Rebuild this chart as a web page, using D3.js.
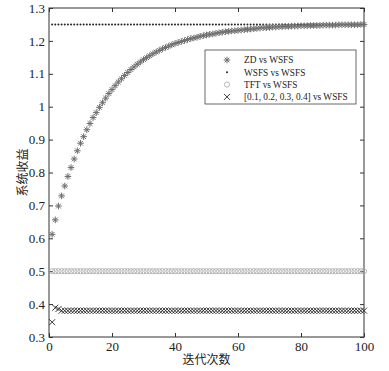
<!DOCTYPE html>
<html>
<head>
<meta charset="utf-8">
<script src="https://cdn.jsdelivr.net/npm/d3@7"></script>
<style>
  body { margin: 0; background: #fff; }
  text { font-family: "Liberation Serif", "DejaVu Serif", serif; fill: #222; }
  .cjk { font-family: "Noto Sans CJK SC", sans-serif; }
</style>
</head>
<body>
<div id="chart"></div>
<script>
// iteration index 1..100
var iterations = d3.range(1, 101);

// ZD vs WSFS
var zdValues = [
    0.612, 0.656, 0.698, 0.729, 0.759, 0.788, 0.815, 0.841, 0.866, 0.889,
    0.909, 0.930, 0.949, 0.967, 0.982, 0.998, 1.012, 1.026, 1.040, 1.052,
    1.064, 1.075, 1.085, 1.095, 1.104, 1.113, 1.121, 1.129, 1.136, 1.143,
    1.149, 1.155, 1.161, 1.166, 1.171, 1.176, 1.180, 1.184, 1.188, 1.192,
    1.195, 1.198, 1.201, 1.204, 1.207, 1.209, 1.211, 1.214, 1.216, 1.218,
    1.220, 1.221, 1.223, 1.225, 1.226, 1.228, 1.229, 1.230, 1.231, 1.232,
    1.233, 1.234, 1.235, 1.236, 1.237, 1.238, 1.239, 1.240, 1.240, 1.241,
    1.242, 1.242, 1.243, 1.243, 1.244, 1.244, 1.245, 1.245, 1.245, 1.246,
    1.246, 1.246, 1.247, 1.247, 1.247, 1.247, 1.248, 1.248, 1.248, 1.248,
    1.248, 1.249, 1.249, 1.249, 1.249, 1.249, 1.249, 1.249, 1.250, 1.250
];
// WSFS vs WSFS, TFT vs WSFS: flat
var wsfsLevel = 1.25;
var tftLevel = 0.5;
// [0.1,0.2,0.3,0.4] vs WSFS: first few differ, then flat
var fixedStart = [0.345, 0.389, 0.385];
var fixedLevel = 0.38;

var xTicks = [0, 20, 40, 60, 80, 100];
var yTicks = [0.3, 0.4, 0.5, 0.6, 0.7, 0.8, 0.9, 1, 1.1, 1.2, 1.3];

var legendLabels = ['ZD vs WSFS', 'WSFS vs WSFS', 'TFT vs WSFS', '[0.1, 0.2, 0.3, 0.4] vs WSFS'];

var margin = {top: 8, right: 25, bottom: 34, left: 49},
    width = 389 - margin.left - margin.right,
    height = 371 - margin.top - margin.bottom;

var svg = d3.select('#chart').append('svg')
    .attr('width', 389)
    .attr('height', 371);

var g = svg.append('g')
    .attr('transform', 'translate(' + margin.left + ',' + margin.top + ')');

var x = d3.scaleLinear().domain([0, 100]).range([0, width]);
var y = d3.scaleLinear().domain([0.3, 1.3]).range([height, 0]);

// series built from the arrays
var zd = iterations.map(function(n, i){ return {n: n, v: zdValues[i]}; });
var wsfs = iterations.map(function(n){ return {n: n, v: wsfsLevel}; });
var tft = iterations.map(function(n){ return {n: n, v: tftLevel}; });
var fixed = iterations.map(function(n, i){
    return {n: n, v: i < fixedStart.length ? fixedStart[i] : fixedLevel};
});

// marker shapes
function asterisk(r){
    var d = r * 0.707;
    return 'M' + (-r) + ',0L' + r + ',0M0,' + (-r) + 'L0,' + r +
        'M' + (-d) + ',' + (-d) + 'L' + d + ',' + d +
        'M' + (-d) + ',' + d + 'L' + d + ',' + (-d);
}
function cross(r){
    return 'M' + (-r) + ',' + (-r) + 'L' + r + ',' + r +
        'M' + (-r) + ',' + r + 'L' + r + ',' + (-r);
}

// axes box with inward ticks
g.append('rect')
    .attr('width', width).attr('height', height)
    .attr('fill', '#fff').attr('stroke', '#333').attr('stroke-width', 1);

var fmt = function(d){ return d3.format('')(+d.toFixed(1)); };

g.append('g')
    .attr('transform', 'translate(0,' + height + ')')
    .call(d3.axisBottom(x).tickValues(xTicks).tickSizeInner(-4).tickSizeOuter(0).tickPadding(5))
    .call(function(a){ a.select('.domain').remove(); });
g.append('g')
    .call(d3.axisTop(x).tickValues(xTicks).tickSizeInner(-4).tickSizeOuter(0).tickFormat(''))
    .call(function(a){ a.select('.domain').remove(); });
g.append('g')
    .call(d3.axisLeft(y).tickValues(yTicks).tickSizeInner(-4).tickSizeOuter(0).tickPadding(4).tickFormat(fmt))
    .call(function(a){ a.select('.domain').remove(); });
g.append('g')
    .attr('transform', 'translate(' + width + ',0)')
    .call(d3.axisRight(y).tickValues(yTicks).tickSizeInner(-4).tickSizeOuter(0).tickFormat(''))
    .call(function(a){ a.select('.domain').remove(); });

g.selectAll('.tick line').attr('stroke', '#333');
g.selectAll('.tick text').style('font-family', '"Liberation Serif", serif')
    .style('font-size', '13px').attr('fill', '#222');

// TFT circles
g.append('g').selectAll('circle')
    .data(tft).enter().append('circle')
    .attr('cx', function(d){ return x(d.n); })
    .attr('cy', function(d){ return y(d.v); })
    .attr('r', 2.6)
    .attr('fill', 'none').attr('stroke', '#a8a8a8').attr('stroke-width', 0.8);

// fixed strategy crosses
g.append('g').selectAll('path')
    .data(fixed).enter().append('path')
    .attr('transform', function(d){ return 'translate(' + x(d.n) + ',' + y(d.v) + ')'; })
    .attr('d', cross(3))
    .attr('stroke', '#222').attr('stroke-width', 0.9).attr('fill', 'none');

// WSFS dots
g.append('g').selectAll('circle')
    .data(wsfs).enter().append('circle')
    .attr('cx', function(d){ return x(d.n); })
    .attr('cy', function(d){ return y(d.v); })
    .attr('r', 1)
    .attr('fill', '#222');

// ZD asterisks
g.append('g').selectAll('path')
    .data(zd).enter().append('path')
    .attr('transform', function(d){ return 'translate(' + x(d.n) + ',' + y(d.v) + ')'; })
    .attr('d', asterisk(3.3))
    .attr('stroke', '#6e6e6e').attr('stroke-width', 1).attr('fill', 'none');

// legend
var legend = g.append('g').attr('transform', 'translate(156,42)');
legend.append('rect')
    .attr('width', 151).attr('height', 54)
    .attr('fill', '#fff').attr('stroke', '#444').attr('stroke-width', 0.8);

var rows = legend.selectAll('g.row')
    .data(legendLabels).enter().append('g')
    .attr('class', 'row')
    .attr('transform', function(d, i){ return 'translate(0,' + (10 + i * 12.3) + ')'; });

rows.append('text')
    .attr('x', 39).attr('dy', '0.35em')
    .style('font-size', '9.3px')
    .text(function(d){ return d; });

rows.each(function(d, i){
    var r = d3.select(this);
    if (i === 0) r.append('path').attr('transform', 'translate(22,0)').attr('d', asterisk(3.3))
        .attr('stroke', '#6e6e6e').attr('stroke-width', 1).attr('fill', 'none');
    if (i === 1) r.append('circle').attr('cx', 22).attr('r', 1).attr('fill', '#222');
    if (i === 2) r.append('circle').attr('cx', 22).attr('r', 2.6)
        .attr('fill', 'none').attr('stroke', '#a8a8a8').attr('stroke-width', 0.8);
    if (i === 3) r.append('path').attr('transform', 'translate(22,0)').attr('d', cross(3))
        .attr('stroke', '#222').attr('stroke-width', 0.9).attr('fill', 'none');
});

// axis titles
svg.append('text')
    .attr('class', 'cjk')
    .attr('x', margin.left + width / 2)
    .attr('y', 364)
    .attr('text-anchor', 'middle')
    .style('font-size', '12px')
    .text('迭代次数');

svg.append('text')
    .attr('class', 'cjk')
    .attr('transform', 'translate(27,' + (margin.top + height / 2) + ') rotate(-90)')
    .attr('text-anchor', 'middle')
    .style('font-size', '12px')
    .text('系统收益');
</script>
</body>
</html>
